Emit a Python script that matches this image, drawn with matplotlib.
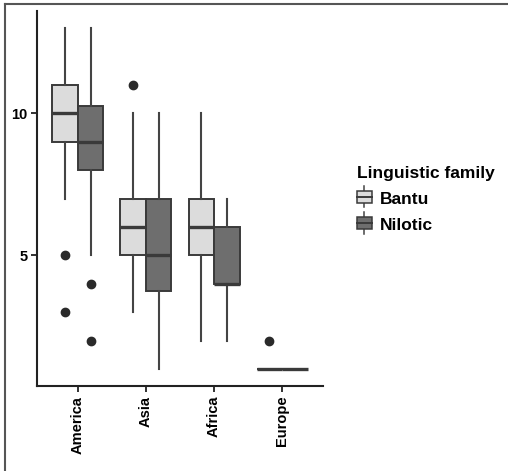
import matplotlib.pyplot as plt
from matplotlib.patches import Rectangle
from matplotlib.lines import Line2D
from matplotlib.legend_handler import HandlerBase

plt.rcParams['font.family'] = ['Liberation Sans', 'DejaVu Sans']
plt.rcParams['font.weight'] = 'bold'

regions = ['America', 'Asia', 'Africa', 'Europe']
families = ['Bantu', 'Nilotic']
fills = ['#dcdcdc', '#6e6e6e']

# box stats: (whislo, q1, med, q3, whishi, fliers)
bantu = [
    (7, 9, 10, 11, 13, [5, 3]),
    (3, 5, 6, 7, 10, [11]),
    (2, 5, 6, 7, 10, []),
    (1, 1, 1, 1, 1, [2]),
]
nilotic = [
    (5, 8, 9, 10.25, 13, [4, 2]),
    (1, 3.75, 5, 7, 10, []),
    (2, 4, 4, 6, 7, []),
    (1, 1, 1, 1, 1, []),
]

edge = '#3a3a3a'

fig = plt.figure(figsize=(5.08, 4.71), dpi=100)
ax = fig.add_axes([37 / 508, 1 - 386 / 471, 286 / 508, 375 / 471])

width = 0.375
for k, data in enumerate([bantu, nilotic]):
    stats = []
    for lo, q1, med, q3, hi, fl in data:
        stats.append(dict(whislo=lo, q1=q1, med=med, q3=q3, whishi=hi, fliers=fl))
    pos = [i + 1 + (k - 0.5) * width for i in range(len(regions))]
    ax.bxp(stats, positions=pos, widths=width, patch_artist=True, showcaps=False,
           boxprops=dict(facecolor=fills[k], edgecolor=edge, linewidth=1.4),
           whiskerprops=dict(color='#444444', linewidth=1.5),
           medianprops=dict(color=edge, linewidth=2.4, solid_capstyle='butt'),
           flierprops=dict(marker='o', markerfacecolor='#2a2a2a', markeredgecolor='#2a2a2a',
                           markersize=6),
           manage_ticks=False)

ax.set_xlim(0.4, 4.6)
ax.set_ylim(0.4, 13.6)
ax.set_xticks(range(1, 5))
ax.set_xticklabels(regions, rotation=90, fontsize=10.5, fontweight='bold')
ax.set_yticks([5, 10])
ax.set_yticklabels(['5', '10'], fontsize=10.5, fontweight='bold')
for s in ['top', 'right']:
    ax.spines[s].set_visible(False)
for s in ['left', 'bottom']:
    ax.spines[s].set_linewidth(1.5)
    ax.spines[s].set_color('#222222')
ax.tick_params(length=4, width=1.3, color='#222222', pad=3)


class BoxHandler(HandlerBase):
    def create_artists(self, legend, orig, x0, y0, w, h, fontsize, trans):
        cx = x0 + w / 2
        r = Rectangle((x0, y0 + h * 0.05), w, h * 0.9, facecolor=orig.get_facecolor(),
                      edgecolor=edge, linewidth=1.1, transform=trans)
        m = Line2D([x0, x0 + w], [y0 + h / 2] * 2, color=edge, linewidth=1.4, transform=trans)
        wt = Line2D([cx, cx], [y0 + h * 0.95, y0 + h * 1.3], color='#444444', linewidth=1.1, transform=trans)
        wb = Line2D([cx, cx], [y0 + h * 0.05, y0 - h * 0.3], color='#444444', linewidth=1.1, transform=trans)
        return [wt, wb, r, m]


handles = [Rectangle((0, 0), 1, 1, facecolor=c) for c in fills]
leg = fig.legend(handles, families, title='Linguistic family', loc='upper left',
                 bbox_to_anchor=(350 / 508, 1 - 159 / 471), frameon=False,
                 handler_map={Rectangle: BoxHandler()}, handlelength=0.86, handleheight=0.8,
                 handletextpad=0.45, labelspacing=0.6, borderaxespad=0,
                 prop=dict(size=12.5, weight='bold'),
                 title_fontproperties=dict(size=12.5, weight='bold'))
leg._legend_box.align = 'left'

# outer frame (top and left)
fig.add_artist(Line2D([5 / 508, 5 / 508], [0, 1 - 4 / 471], transform=fig.transFigure,
                      color='#555555', linewidth=1.5))
fig.add_artist(Line2D([5 / 508, 1], [1 - 4 / 471, 1 - 4 / 471], transform=fig.transFigure,
                      color='#555555', linewidth=1.5))

fig.savefig('out.png', dpi=100)
